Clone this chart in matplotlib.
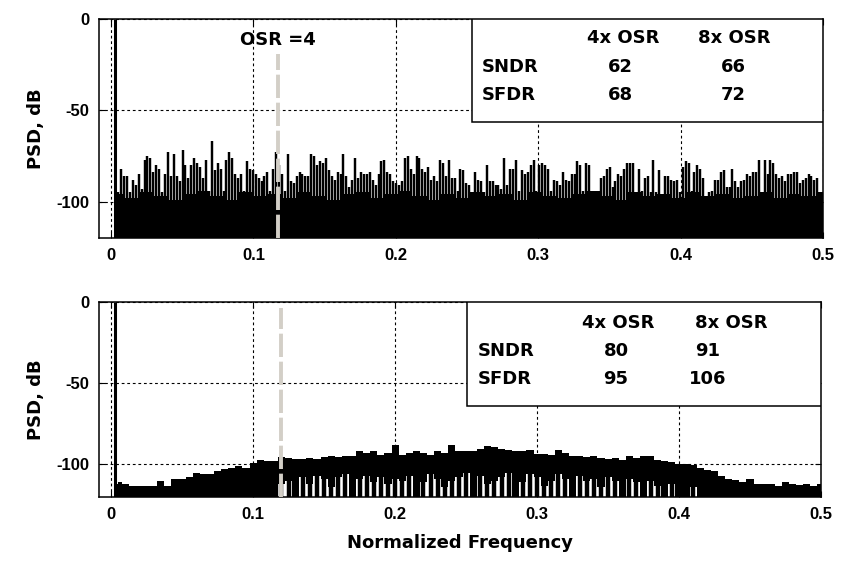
import numpy as np
import matplotlib
matplotlib.use('Agg')
from matplotlib import pyplot as plt
from matplotlib.patches import Rectangle

plt.rcParams['axes.unicode_minus'] = False

# ---- values (dB) ----
signal_freq = 0.003
osr_freq_top = 0.117
osr_freq_bot = 0.12
osr_top_db = -19
osr_bot_db = -4

# top panel: spike peaks, 0.005 .. 0.496
top_peaks = [-95, -82, -86, -86, -95, -88, -91, -85, -93, -77, -75, -76, -84, -80, -82, -95,
             -85, -73, -86, -74, -86, -89, -72, -80, -87, -80, -76, -79, -81, -87, -77, -94,
             -67, -83, -79, -82, -94, -77, -73, -76, -85, -87, -85, -94, -78, -82, -83, -85,
             -87, -89, -86, -84, -94,
             -82, -73, -80, -85, -94, -74, -89, -90, -86, -84, -85, -86, -86, -74, -75, -80,
             -78, -79, -76, -83, -86, -88, -84, -85, -74, -86, -92, -88, -76, -87, -84, -85,
             -85, -84, -88, -91, -85, -78, -77, -84, -85, -89, -90, -91, -89, -76, -75, -82,
             -85, -75, -76, -82, -84, -81, -88, -86, -89, -77, -79, -86,
             -77, -87, -87, -94, -82, -83, -90, -91, -95, -84, -88, -89, -95, -80, -89, -89,
             -91, -91, -93, -76, -91, -82, -82, -77, -94, -83, -85, -84, -80, -77, -94, -80,
             -79, -80, -82, -94, -88, -89, -91, -84, -88, -89, -85, -85, -78, -80, -94, -79,
             -80, -94, -97, -94, -87, -86, -82, -81, -92, -89, -85, -86, -82, -79,
             -79, -79, -95, -82, -94, -87, -86, -95, -77, -95, -83, -97, -86, -86, -88, -89,
             -88, -95, -81, -78, -79, -94, -84, -80, -82, -87, -98, -95, -94, -88, -88, -84,
             -83, -92, -92, -82, -89, -92, -89, -88, -85, -86, -84, -84, -77, -95, -77, -85,
             -77, -79, -85, -87, -86, -89, -85, -85, -84, -84, -90, -88, -87, -85, -86, -88, -87]
# top panel: solid noise floor, 0.004 .. 0.5
top_floor = [-96, -98, -95, -97, -99, -96, -94, -97, -99, -95, -97, -96, -98, -95, -97,
             -99, -96, -95, -98, -96, -94, -97, -99, -96, -98, -95, -97, -96, -99, -95,
             -97, -98, -96, -94, -97, -99, -95, -97, -96, -98, -95, -97, -96, -98, -97,
             -95, -98, -96, -97, -95]

# bottom panel: upper edge of the noise, 0.005 .. 0.5 step 0.005
bot_upper = [-111, -112, -113, -113, -113, -113, -110, -113, -109, -109, -108, -105,
             -106, -106, -104, -103, -102, -101, -102, -99, -97, -98, -98,
             -95.5, -96, -96.5, -96.5, -96, -96.5, -95.5, -95, -95.5, -95, -94.5, -92, -93,
             -91.5, -94, -93, -88, -94, -93, -91.5, -93, -94, -92, -93, -88, -92,
             -92, -91.5, -90.5, -88.5, -89.5, -90.5, -91, -91.5, -92, -91, -93.5, -93.5, -94,
             -91, -93, -94.5, -95, -95.5, -94.5, -96, -96.5, -96, -97, -95, -96,
             -95, -94.5, -97.5, -98, -98.5, -99.5, -100, -100.5, -102, -103.5, -104, -107,
             -109, -109.5, -110.5, -109, -112, -112, -112, -113, -111, -112, -112.5, -112,
             -113, -112]
# bottom panel: level down to which the noise is solid black
bot_base = [-120] * 23 + [
    -112, -110, -120, -108, -112, -107, -109, -114, -108, -106, -120, -109, -107, -111,
    -108, -112, -109, -110, -107, -120, -111, -106, -109, -114, -110, -108, -105, -120,
    -107, -112, -110, -108, -105, -120, -111, -106, -108, -113, -110, -106, -109, -120,
    -107, -110, -109, -114, -108, -110, -120, -109, -111, -120, -110, -113, -120, -112,
    -120, -120, -114, -120, -120, -120] + [-120] * 15

table_cols = ['4x OSR', '8x OSR']
table_rows = ['SNDR', 'SFDR']
top_table = [[62, 66], [68, 72]]
bot_table = [[80, 91], [95, 106]]

GRAY = '#d3cfc7'
TICK_FONT = dict(family='Liberation Sans', weight='bold', size=12)
TEXT_FONT = dict(family='DejaVu Sans', weight='bold', size=13)


def style_axes(ax):
    ax.set_xlim(-0.0085, 0.5)
    ax.set_ylim(-120, 0)
    ax.set_xticks([0, 0.1, 0.2, 0.3, 0.4, 0.5])
    ax.set_xticklabels(['0', '0.1', '0.2', '0.3', '0.4', '0.5'], fontdict=TICK_FONT)
    ax.set_yticks([-100, -50, 0])
    ax.set_yticklabels(['-100', '-50', '0'], fontdict=TICK_FONT)
    ax.tick_params(direction='in', length=4, width=0.8, top=True, right=True, pad=7)
    ax.grid(True, color='k', linestyle=(0, (2.5, 2.5)), linewidth=0.8)
    ax.set_axisbelow(True)
    for s in ax.spines.values():
        s.set_linewidth(1.1)
    ax.set_ylabel('PSD, dB', fontdict=TEXT_FONT)
    ax.yaxis.set_label_coords(-0.075, 0.5)


def draw_table(ax, values, box, xs_vals, ys, x_head, x_row):
    left, bottom = box
    ax.add_patch(Rectangle((left, bottom), 1 - left, 1 - bottom, transform=ax.transAxes,
                           facecolor='white', edgecolor='k', linewidth=1.1, zorder=5))
    for j, c in enumerate(table_cols):
        ax.text(x_head[j], ys[0], c, transform=ax.transAxes, ha='center', va='center',
                zorder=6, **TEXT_FONT)
    for i, r in enumerate(table_rows):
        ax.text(x_row, ys[i + 1], r, transform=ax.transAxes, ha='left', va='center',
                zorder=6, **TEXT_FONT)
        for j in range(2):
            ax.text(xs_vals[j], ys[i + 1], str(values[i][j]), transform=ax.transAxes,
                    ha='center', va='center', zorder=6, **TEXT_FONT)


fig = plt.figure(figsize=(8.44, 5.62), dpi=100)
ax1 = fig.add_axes([0.1173, 0.5765, 0.8578, 0.3897])
ax2 = fig.add_axes([0.1173, 0.1157, 0.8555, 0.3470])

# ---- top panel ----
f_top = np.linspace(0.005, 0.496, len(top_peaks))
f_floor = np.linspace(0.004, 0.5, len(top_floor))
ax1.fill_between(f_floor, -120, top_floor, step='mid', color='k', lw=0, zorder=2)
ax1.vlines(f_top, -120, top_peaks, color='k', lw=1.75, zorder=2)
ax1.vlines(signal_freq, -120, 0, color='k', lw=2.2, zorder=3)
ax1.vlines(osr_freq_top, -120, osr_top_db, color=GRAY, lw=2.8,
           linestyles=[(0, (6, 1.2))], zorder=4)
ax1.text(osr_freq_top, -11.5, 'OSR =4', ha='center', va='center', zorder=6, **TEXT_FONT)
style_axes(ax1)
draw_table(ax1, top_table, (0.515, 0.53), [0.72, 0.876], [0.913, 0.78, 0.653],
           [0.724, 0.878], 0.529)

# ---- bottom panel ----
f_bot = np.arange(1, len(bot_upper) + 1) * 0.005
ax2.fill_between(f_bot, bot_base, bot_upper, step='mid', color='k', lw=0, zorder=2)
ax2.vlines(f_bot, -120, bot_base, color='k', lw=3.2, zorder=2)
ax2.fill_between([0.004, 0.0075], -120, -112, color='k', lw=0, zorder=2)
ax2.vlines(signal_freq, -120, 0, color='k', lw=2.2, zorder=3)
ax2.vlines(osr_freq_bot, -120, osr_bot_db, color=GRAY, lw=2.8,
           linestyles=[(0, (6, 1.2))], zorder=4)
style_axes(ax2)
ax2.set_xlabel('Normalized Frequency', fontdict=TEXT_FONT, labelpad=9)
draw_table(ax2, bot_table, (0.51, 0.467), [0.716, 0.843], [0.892, 0.749, 0.605],
           [0.719, 0.875], 0.525)

fig.savefig('out.png', dpi=100)
